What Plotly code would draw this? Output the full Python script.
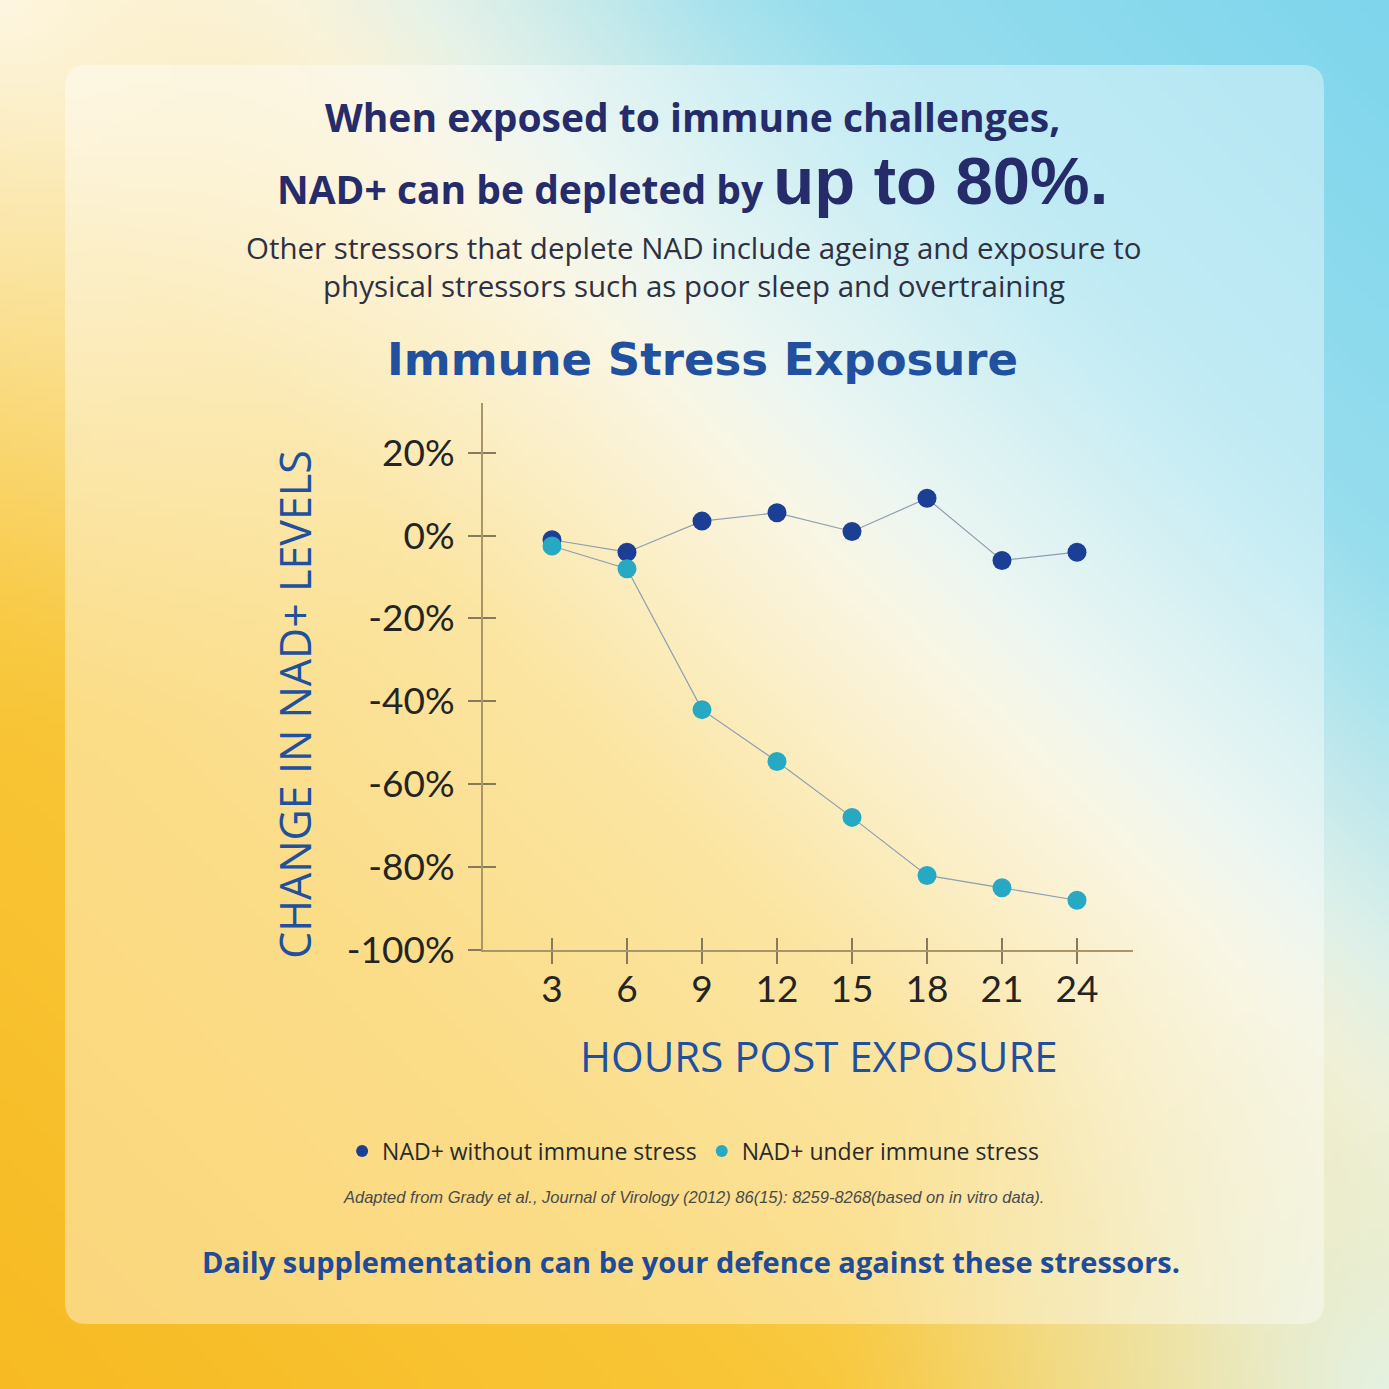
import zlib, struct, base64, math
import plotly.graph_objects as go

# ---------------- data ----------------
hours = [3, 6, 9, 12, 15, 18, 21, 24]
nad_without_stress = [-1, -4, 3.5, 5.5, 1, 9, -6, -4]
nad_under_stress = [-2.5, -8, -42, -54.5, -68, -82, -85, -88]
series_names = ["NAD+ without immune stress", "NAD+ under immune stress"]
y_tick_vals = [20, 0, -20, -40, -60, -80, -100]
y_tick_text = ["20%", "0%", "-20%", "-40%", "-60%", "-80%", "-100%"]
x_tick_vals = hours
x_tick_text = [str(h) for h in hours]

W = H = 1389

def px_x(p):
    return p / W

def px_y(p):
    return 1 - p / H

# ---------------- background gradient (PNG) ----------------
stops = [
    (0.00, (247, 186, 34)),
    (0.28, (248, 198, 56)),
    (0.45, (248, 212, 100)),
    (0.53, (249, 228, 160)),
    (0.60, (246, 240, 210)),
    (0.65, (222, 240, 234)),
    (0.75, (170, 227, 237)),
    (0.80, (150, 221, 237)),
    (1.00, (126, 213, 236)),
]

def grad(t):
    for (t0, c0), (t1, c1) in zip(stops[:-1], stops[1:]):
        if t <= t1:
            f = (t - t0) / (t1 - t0) if t1 > t0 else 0
            f = max(0.0, min(1.0, f))
            return [c0[k] + (c1[k] - c0[k]) * f for k in range(3)]
    return list(stops[-1][1])

def blend(c, target, w):
    return [c[k] * (1 - w) + target[k] * w for k in range(3)]

def pix(i, j, n):
    u = (i + 0.5) / n
    v = (j + 0.5) / n
    t = (u + (1 - v)) / 2
    c = grad(t)
    d_tl = math.hypot(u, v)
    w = max(0.0, 1 - d_tl / 0.55) ** 1.5
    c = blend(c, (253, 246, 225), w)
    d_br = math.hypot(1 - u, 1 - v)
    w2 = max(0.0, 1 - d_br / 0.4) ** 1.2
    c = blend(c, (228, 241, 226), w2)
    return tuple(int(round(max(0, min(255, x)))) for x in c)

def png_uri(n):
    raw = bytearray()
    for j in range(n):
        raw.append(0)
        for i in range(n):
            raw += bytes(pix(i, j, n))
    def chunk(tag, data):
        c = struct.pack('>I', len(data)) + tag + data
        return c + struct.pack('>I', zlib.crc32(tag + data) & 0xffffffff)
    png = (b'\x89PNG\r\n\x1a\n'
           + chunk(b'IHDR', struct.pack('>IIBBBBB', n, n, 8, 2, 0, 0, 0))
           + chunk(b'IDAT', zlib.compress(bytes(raw), 9))
           + chunk(b'IEND', b''))
    return 'data:image/png;base64,' + base64.b64encode(png).decode()

bg_uri = png_uri(160)

# ---------------- rounded panel path ----------------
def rounded_rect(x0, y0, x1, y1, r):
    X0, X1 = px_x(x0), px_x(x1)
    Y0, Y1 = px_y(y0), px_y(y1)
    rx, ry = r / W, r / H
    return (f"M {X0+rx},{Y0} L {X1-rx},{Y0} Q {X1},{Y0} {X1},{Y0-ry} "
            f"L {X1},{Y1+ry} Q {X1},{Y1} {X1-rx},{Y1} "
            f"L {X0+rx},{Y1} Q {X0},{Y1} {X0},{Y1+ry} "
            f"L {X0},{Y0-ry} Q {X0},{Y0} {X0+rx},{Y0} Z")

# ---------------- colours ----------------
dark_blue = "#1a3f95"
teal = "#27a8c3"
link_line = "#8f9db0"
axis_col = "#a8956a"
tick_col = "#857a60"
title_blue = "#21509f"
navy = "#262b6a"

fig = go.Figure()

# connecting lines (base subplot, drawn below markers)
for ys in (nad_without_stress, nad_under_stress):
    fig.add_trace(go.Scatter(x=hours, y=ys, mode="lines",
                             line=dict(color=link_line, width=1.2),
                             showlegend=False, hoverinfo="skip",
                             xaxis="x", yaxis="y"))

# markers (overlay subplot, drawn on top)
fig.add_trace(go.Scatter(x=hours, y=nad_without_stress, mode="markers",
                         name=series_names[0],
                         marker=dict(color=dark_blue, size=19),
                         xaxis="x2", yaxis="y2"))
fig.add_trace(go.Scatter(x=hours, y=nad_under_stress, mode="markers",
                         name=series_names[1],
                         marker=dict(color=teal, size=19),
                         xaxis="x2", yaxis="y2"))

xrange = [0.24, 26.24]
yrange = [-100, 32]
xdom = [px_x(483), px_x(1133)]
ydom = [px_y(950), px_y(403)]

tick_font = dict(family="Lato, 'Open Sans', sans-serif", size=37, color="#242424")

fig.update_layout(
    width=W, height=H,
    margin=dict(l=0, r=0, t=0, b=0),
    paper_bgcolor="rgba(0,0,0,0)",
    plot_bgcolor="rgba(0,0,0,0)",
    showlegend=True,
    legend=dict(orientation="h", x=0.499, xanchor="center",
                y=px_y(1151), yanchor="middle",
                font=dict(family="'Open Sans', Lato, sans-serif", size=23, color="#2a2a2a"),
                itemsizing="constant", bgcolor="rgba(0,0,0,0)",
                tracegroupgap=0),
    xaxis=dict(domain=xdom, range=xrange, anchor="y",
               tickvals=x_tick_vals, ticktext=x_tick_text,
               ticks="outside", ticklen=12, tickwidth=1.5, tickcolor=tick_col,
               showline=True, linecolor=axis_col, linewidth=2,
               showgrid=False, zeroline=False, tickfont=tick_font,
               ticklabelstandoff=-6,
               title=dict(text="&nbsp;&nbsp;HOURS POST EXPOSURE", standoff=33,
                          font=dict(family="'Open Sans', Lato, sans-serif", size=42, color=title_blue)),
               automargin=False, fixedrange=True),
    yaxis=dict(domain=ydom, range=yrange, anchor="x",
               tickvals=y_tick_vals, ticktext=y_tick_text,
               ticks="outside", ticklen=13, tickwidth=1.5, tickcolor=tick_col,
               showline=True, linecolor=axis_col, linewidth=2,
               showgrid=False, zeroline=False, tickfont=tick_font,
               ticklabelstandoff=6,
               title=dict(text="CHANGE IN NAD+ LEVELS&nbsp;&nbsp;&nbsp;&nbsp;&nbsp;", standoff=22,
                          font=dict(family="'Open Sans', Lato, sans-serif", size=43, color=title_blue)),
               automargin=False, fixedrange=True),
    xaxis2=dict(overlaying="x", anchor="y2", range=xrange,
                tickvals=x_tick_vals, ticks="inside", ticklen=12, tickwidth=1.5,
                tickcolor=tick_col, showticklabels=False, showline=False,
                showgrid=False, zeroline=False, fixedrange=True),
    yaxis2=dict(overlaying="y", anchor="x2", range=yrange,
                tickvals=[v for v in y_tick_vals if v != -100], ticks="inside", ticklen=13, tickwidth=1.5,
                tickcolor=tick_col, showticklabels=False, showline=False,
                showgrid=False, zeroline=False, fixedrange=True),
    images=[dict(source=bg_uri, xref="paper", yref="paper", x=0, y=1,
                 sizex=1, sizey=1, sizing="stretch", layer="below", xanchor="left", yanchor="top")],
    shapes=[dict(type="path", xref="paper", yref="paper",
                 path=rounded_rect(65, 65, 1324, 1324, 22),
                 fillcolor="rgba(255,255,255,0.4)", line=dict(width=0), layer="below")],
)

head_font = "'Open Sans', Lato, sans-serif"
headline = ("<b><span style='font-size:39px'>When exposed to immune challenges,</span><br>"
            "<span style='font-size:39px'>NAD+ can be depleted by </span>"
            "<span style=\"font-size:67px;font-family:'Liberation Sans', Arial, sans-serif\">up to 80%.</span></b>")
annotations = [
    dict(text=headline, x=px_x(692), y=px_y(154), align="center",
         font=dict(family=head_font, size=55.5, color=navy)),
    dict(text="Other stressors that deplete NAD include ageing and exposure to",
         x=px_x(694), y=px_y(247),
         font=dict(family="'Open Sans', Lato, sans-serif", size=29.5, color="#2f3142")),
    dict(text="physical stressors such as poor sleep and overtraining",
         x=px_x(694), y=px_y(286),
         font=dict(family="'Open Sans', Lato, sans-serif", size=29.5, color="#2f3142")),
    dict(text="<b>Immune Stress Exposure</b>", x=px_x(702), y=px_y(360),
         font=dict(family="'DejaVu Sans', Verdana, sans-serif", size=45, color=title_blue)),
    dict(text="<i>Adapted from Grady et al., Journal of Virology (2012) 86(15): 8259-8268(based on in vitro data).</i>",
         x=px_x(693), y=px_y(1197),
         font=dict(family="'Liberation Sans Narrow', 'Liberation Sans', sans-serif", size=16.5, color="#4a4a4a")),
    dict(text="<b>Daily supplementation can be your defence against these stressors.</b>",
         x=px_x(691), y=px_y(1261),
         font=dict(family="'Open Sans', sans-serif", size=29, color="#1f4b98")),
]
for a in annotations:
    a.update(xref="paper", yref="paper", showarrow=False, xanchor="center", yanchor="middle")
fig.update_layout(annotations=annotations)

fig.write_html("out.html", config={"displayModeBar": False},
               post_script="document.body.style.margin='0';document.body.style.padding='0';")
